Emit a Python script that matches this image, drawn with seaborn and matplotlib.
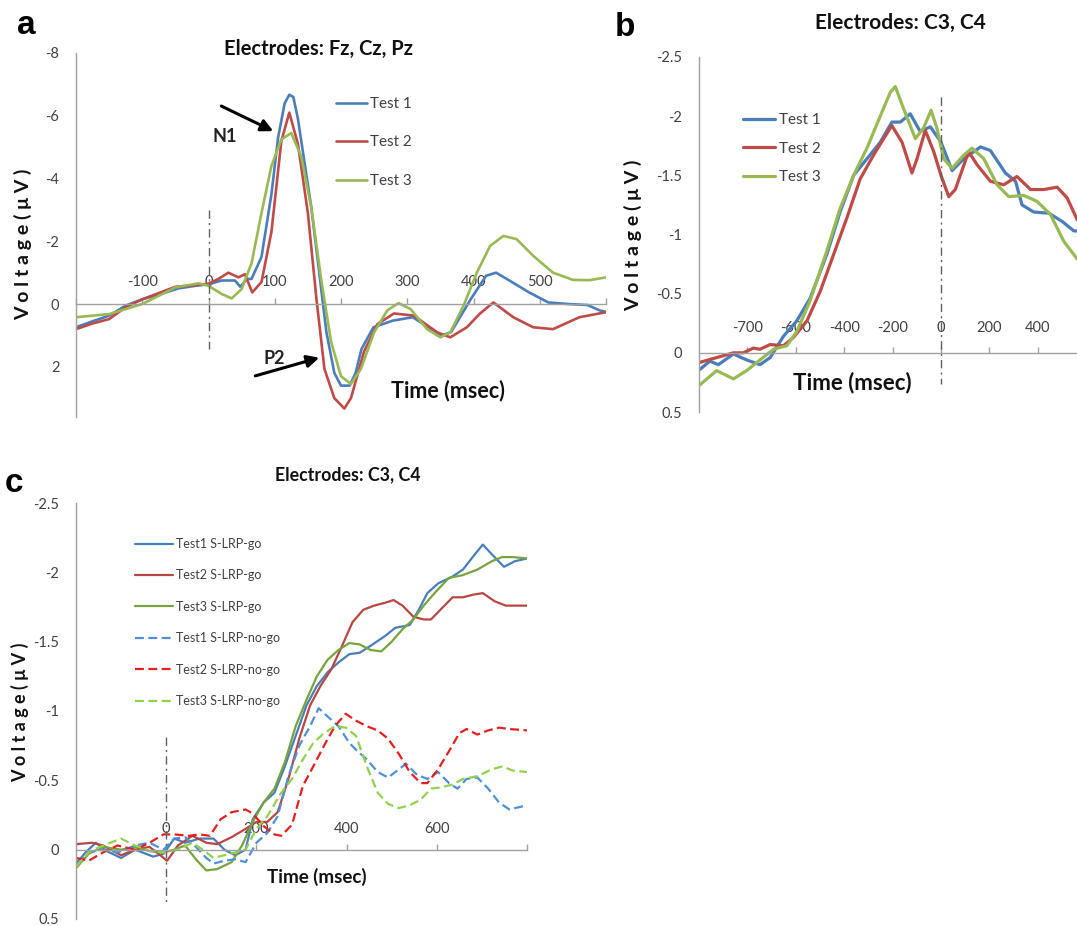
import numpy as np
import pandas as pd
import matplotlib
matplotlib.use("Agg")
import matplotlib.pyplot as plt
import seaborn as sns

# ---------------- data: panel a (Fz, Cz, Pz) ----------------
a_t1_time = [-200, -175, -150, -125, -100, -75, -45, -20, 0, 20, 40, 48, 58, 65, 80, 95, 105, 115, 122,
             128, 135, 145, 155, 166, 178, 190, 200, 213, 222, 231, 249, 278, 308, 337, 352, 366, 396,
             419, 434, 455, 484, 513, 543, 572, 590, 600]
a_t1_volt = [0.74, 0.55, 0.37, 0.05, -0.15, -0.3, -0.5, -0.58, -0.63, -0.75, -0.75, -0.55, -0.8, -0.8,
             -1.5, -3.5, -5.3, -6.4, -6.67, -6.6, -5.9, -4.5, -3.1, -1.2, 0.9, 2.2, 2.6, 2.6, 2.2, 1.43,
             0.74, 0.53, 0.42, 0.8, 1.0, 0.9, -0.16, -0.9, -1.0, -0.74, -0.37, -0.05, 0.0, 0.03, 0.2, 0.25]
a_t2_time = [-200, -175, -150, -125, -100, -75, -50, -20, 0, 15, 30, 45, 55, 66, 80, 95, 110, 122, 135,
             150, 163, 175, 190, 205, 215, 235, 255, 280, 310, 345, 365, 390, 410, 430, 460, 490, 520,
             560, 600]
a_t2_volt = [0.8, 0.62, 0.48, 0.1, -0.15, -0.35, -0.55, -0.6, -0.65, -0.8, -1.0, -0.85, -0.95, -0.37,
             -0.7, -2.3, -5.2, -6.1, -5.1, -2.9, -0.15, 2.07, 3.0, 3.33, 3.0, 1.5, 0.64, 0.3, 0.37, 0.9,
             1.06, 0.74, 0.3, -0.05, 0.42, 0.74, 0.8, 0.42, 0.26]
a_t3_time = [-200, -150, -100, -50, -15, 0, 20, 35, 50, 65, 80, 95, 110, 125, 140, 155, 170, 185, 200,
             215, 230, 250, 270, 287, 305, 330, 350, 365, 385, 405, 425, 445, 465, 490, 520, 550, 575, 600]
a_t3_volt = [0.42, 0.32, 0.0, -0.53, -0.66, -0.58, -0.32, -0.18, -0.48, -1.3, -2.9, -4.4, -5.25, -5.45,
             -4.7, -3.1, -0.8, 1.2, 2.3, 2.55, 2.07, 0.9, 0.2, -0.03, 0.16, 0.8, 1.06, 0.9, 0.05, -1.0,
             -1.85, -2.17, -2.07, -1.54, -1.0, -0.77, -0.76, -0.85]
a_labels = ["Test 1", "Test 2", "Test 3"]
a_xticks = [-200, -100, 0, 100, 200, 300, 400, 500, 600]
a_xticklabels = ["", "-100", "0", "100", "200", "300", "400", "500", ""]
a_yticks = [-8, -6, -4, -2, 0, 2]
a_yticklabels = ["-8", "-6", "-4", "-2", "0", "2"]

# ---------------- data: panel b (C3, C4, response locked) ----------------
b_time = [-996, -955, -920, -858, -803, -748, -706, -651, -596, -541, -472, -417, -361, -306, -251,
          -203, -168, -127, -86, -44, 0, 46, 94, 163, 204, 266, 308, 335, 383, 446, 501, 549, 564]
b_t1_volt = [0.14, 0.07, 0.1, 0.01, 0.06, 0.1, 0.04, -0.14, -0.27, -0.46, -0.83, -1.19, -1.5, -1.64,
             -1.78, -1.95, -1.95, -2.02, -1.87, -1.91, -1.78, -1.54, -1.64, -1.74, -1.71, -1.52, -1.45,
             -1.25, -1.19, -1.18, -1.11, -1.03, -1.03]
b_t2_time = [-996, -927, -858, -817, -775, -748, -706, -651, -610, -554, -499, -444, -389, -334, -279,
             -237, -203, -161, -120, -99, -65, -30, 0, 32, 59, 114, 149, 204, 259, 314, 370, 425, 480,
             521, 564]
b_t2_volt = [0.08, 0.04, 0.0, 0.0, -0.04, -0.03, -0.07, -0.06, -0.13, -0.27, -0.52, -0.83, -1.14, -1.47,
             -1.67, -1.81, -1.92, -1.78, -1.52, -1.64, -1.88, -1.7, -1.5, -1.32, -1.38, -1.7, -1.59,
             -1.45, -1.42, -1.49, -1.38, -1.38, -1.4, -1.31, -1.12]
b_t3_time = [-996, -927, -858, -803, -748, -692, -637, -596, -541, -472, -417, -361, -306, -251, -210,
             -189, -154, -106, -72, -41, -17, 11, 46, 94, 128, 177, 232, 280, 342, 397, 452, 508, 564]
b_t3_volt = [0.27, 0.15, 0.22, 0.15, 0.06, -0.03, -0.06, -0.18, -0.44, -0.86, -1.22, -1.5, -1.73, -2.0,
             -2.2, -2.25, -2.06, -1.81, -1.9, -2.05, -1.9, -1.64, -1.56, -1.67, -1.73, -1.64, -1.42,
             -1.32, -1.33, -1.28, -1.17, -0.94, -0.79]
b_labels = ["Test 1", "Test 2", "Test 3"]
b_xticks = [-800, -600, -400, -200, 0, 200, 400]
b_xticklabels = ["-700", "-600", "-400", "-200", "0", "200", "400"]
b_yticks = [-2.5, -2, -1.5, -1, -0.5, 0, 0.5]
b_yticklabels = ["-2.5", "-2", "-1.5", "-1", "-0.5", "0", "0.5"]

# ---------------- data: panel c (C3, C4, stimulus locked LRP) ----------------
c_go1_time = [-199, -179, -156, -132, -100, -69, -29, -6, 18, 42, 74, 105, 129, 153, 176, 192, 216, 240,
              263, 287, 311, 334, 358, 382, 406, 429, 453, 485, 508, 540, 560, 579, 603, 635, 658, 682,
              702, 722, 749, 773, 800]
c_go1_volt = [0.10, 0.02, -0.05, 0.01, 0.06, 0.0, 0.05, 0.03, -0.08, -0.05, -0.08, -0.08, 0.0, 0.04, 0.0,
              -0.22, -0.34, -0.41, -0.6, -0.82, -1.04, -1.18, -1.28, -1.35, -1.41, -1.42, -1.47, -1.54,
              -1.6, -1.62, -1.73, -1.85, -1.92, -1.97, -2.02, -2.12, -2.2, -2.13, -2.04, -2.08, -2.1]
c_go2_time = [-199, -164, -140, -100, -69, -37, -13, 2, 26, 58, 89, 113, 145, 176, 200, 224, 247, 271,
              295, 319, 342, 366, 390, 413, 437, 461, 485, 504, 524, 548, 571, 587, 611, 635, 658, 682,
              702, 729, 753, 800]
c_go2_volt = [-0.04, -0.05, -0.03, 0.04, 0.0, -0.02, 0.04, 0.08, -0.03, -0.1, -0.05, -0.04, -0.09, -0.15,
              -0.2, -0.2, -0.27, -0.51, -0.8, -1.04, -1.18, -1.3, -1.47, -1.64, -1.73, -1.76, -1.78,
              -1.8, -1.76, -1.68, -1.66, -1.66, -1.74, -1.82, -1.82, -1.84, -1.85, -1.79, -1.76, -1.76]
c_go3_time = [-199, -172, -140, -100, -69, -37, -6, 18, 42, 66, 89, 113, 145, 168, 192, 216, 240, 263,
              287, 311, 334, 358, 382, 406, 429, 453, 477, 500, 524, 548, 571, 595, 627, 658, 690, 722,
              745, 769, 800]
c_go3_volt = [0.13, 0.03, -0.02, 0.0, -0.02, 0.01, 0.02, 0.0, -0.03, 0.07, 0.15, 0.14, 0.09, -0.03,
              -0.2, -0.34, -0.44, -0.63, -0.89, -1.08, -1.25, -1.37, -1.44, -1.49, -1.48, -1.44, -1.43,
              -1.5, -1.59, -1.66, -1.76, -1.85, -1.96, -1.98, -2.02, -2.08, -2.11, -2.11, -2.1]
c_ng1_time = [-199, -172, -140, -108, -69, -37, -6, 18, 42, 66, 89, 105, 129, 153, 176, 200, 224, 247,
              271, 295, 319, 338, 358, 382, 406, 421, 445, 469, 492, 516, 532, 556, 579, 603, 627, 646,
              666, 690, 714, 738, 761, 800]
c_ng1_volt = [0.09, 0.02, 0.0, 0.02, -0.03, -0.05, 0.0, -0.08, -0.09, -0.02, 0.06, 0.1, 0.08, 0.07,
              0.09, -0.05, -0.12, -0.24, -0.53, -0.75, -0.89, -1.02, -0.96, -0.89, -0.77, -0.72, -0.65,
              -0.56, -0.52, -0.58, -0.62, -0.54, -0.51, -0.56, -0.48, -0.44, -0.51, -0.52, -0.44, -0.34,
              -0.29, -0.32]
c_ng2_time = [-199, -172, -140, -108, -69, -37, -6, 18, 50, 74, 97, 121, 145, 176, 192, 216, 240, 255,
              279, 303, 326, 350, 374, 398, 421, 445, 469, 492, 516, 540, 564, 579, 603, 627, 650, 666,
              690, 714, 738, 761, 800]
c_ng2_volt = [0.06, 0.08, 0.02, -0.03, 0.0, -0.05, -0.11, -0.11, -0.1, -0.11, -0.1, -0.22, -0.27, -0.29,
              -0.26, -0.17, -0.11, -0.1, -0.18, -0.46, -0.6, -0.75, -0.89, -0.98, -0.93, -0.89, -0.86,
              -0.8, -0.69, -0.56, -0.48, -0.48, -0.58, -0.71, -0.84, -0.87, -0.83, -0.86, -0.88, -0.87,
              -0.86]
c_ng3_time = [-199, -172, -140, -100, -69, -37, -6, 26, 58, 81, 105, 129, 153, 176, 200, 224, 255, 279,
              303, 326, 350, 374, 398, 421, 445, 469, 492, 516, 540, 564, 587, 611, 635, 658, 690, 722,
              745, 769, 800]
c_ng3_volt = [0.12, 0.02, -0.03, -0.08, -0.03, 0.01, 0.02, 0.0, -0.05, 0.0, 0.06, 0.04, 0.02, 0.0,
              -0.15, -0.24, -0.41, -0.51, -0.65, -0.77, -0.84, -0.89, -0.88, -0.82, -0.6, -0.41, -0.33,
              -0.3, -0.32, -0.36, -0.44, -0.45, -0.47, -0.51, -0.53, -0.58, -0.6, -0.57, -0.56]
c_labels = ["Test1 S-LRP-go", "Test2 S-LRP-go", "Test3 S-LRP-go",
            "Test1 S-LRP-no-go", "Test2 S-LRP-no-go", "Test3 S-LRP-no-go"]
c_xticks = [0, 200, 400, 600, 800]
c_xticklabels = ["0", "200", "400", "600", ""]
c_yticks = [-2.5, -2, -1.5, -1, -0.5, 0, 0.5]
c_yticklabels = ["-2.5", "-2", "-1.5", "-1", "-0.5", "0", "0.5"]

# ---------------- styling ----------------
sns.set_style("white")
plt.rcParams["font.family"] = ["Lato", "DejaVu Sans"]

W, H = 1077, 926
fig = plt.figure(figsize=(W / 100, H / 100), dpi=100)

def rect(x0, x1, yt, yb):
    return [x0 / W, 1 - yb / H, (x1 - x0) / W, (yb - yt) / H]

def fp(x, y):
    return (x / W, 1 - y / H)

AXC = "#A0A0A0"
TXC = "#404040"
BLUE, RED, GREEN = "#4A7EBB", "#BE4B48", "#98B954"

def style(ax, xlim, ylim, xt, xtl, yt, ytl, xpad):
    ax.set_xlim(*xlim)
    ax.set_ylim(*ylim)
    ax.set_xlabel("")
    ax.set_ylabel("")
    ax.patch.set_alpha(0)
    ax.spines["right"].set_visible(False)
    ax.spines["bottom"].set_visible(False)
    ax.spines["top"].set_position(("data", 0))
    ax.spines["top"].set_color(AXC)
    ax.spines["left"].set_color(AXC)
    ax.spines["top"].set_linewidth(1.0)
    ax.spines["left"].set_linewidth(1.0)
    ax.xaxis.set_ticks_position("top")
    ax.set_xticks(xt)
    ax.set_xticklabels(xtl)
    ax.set_yticks(yt)
    ax.set_yticklabels(ytl)
    ax.tick_params(axis="x", direction="out", length=4, width=1, color=AXC, labelcolor=TXC,
                   labelsize=10.5, pad=xpad, top=True, bottom=False, labeltop=True, labelbottom=False)
    ax.tick_params(axis="y", direction="out", length=4, width=1, color=AXC, labelcolor=TXC,
                   labelsize=10.5, pad=8)

def vline(ax, y0, y1):
    ax.vlines(0, y0, y1, colors="#606060", linewidth=1.0, linestyles=(0, (6, 3, 1.5, 3)))

# ---------------- panel a ----------------
axa = fig.add_axes(rect(76, 606, 53, 417))
for t, v, c, lab in [(a_t1_time, a_t1_volt, BLUE, a_labels[0]),
                     (a_t2_time, a_t2_volt, RED, a_labels[1]),
                     (a_t3_time, a_t3_volt, GREEN, a_labels[2])]:
    sns.lineplot(x=t, y=v, ax=axa, color=c, linewidth=1.9, label=lab)
style(axa, (-200, 600), (3.6, -8), a_xticks, a_xticklabels, a_yticks, a_yticklabels, 6.5)
vline(axa, -3.0, 1.43)
axa.legend(loc="upper left", bbox_to_anchor=fp(336, 97), bbox_transform=fig.transFigure,
           frameon=False, borderpad=0, borderaxespad=0, handlelength=2.0, handletextpad=0.25,
           labelspacing=1.6, fontsize=11, labelcolor=TXC)
axa.annotate("", xy=(97.8, -5.51), xytext=(19.3, -6.31),
             arrowprops=dict(arrowstyle="-|>", color="black", lw=2.2, mutation_scale=18,
                             shrinkA=0, shrinkB=0))
axa.annotate("", xy=(167.2, 1.71), xytext=(70.6, 2.29),
             arrowprops=dict(arrowstyle="-|>", color="black", lw=2.2, mutation_scale=18,
                             shrinkA=0, shrinkB=0))
axa.text(24.6, -5.35, "N1", fontsize=13, fontweight="bold", color="#222222", ha="center", va="center")
axa.text(99, 1.72, "P2", fontsize=13, fontweight="bold", color="#222222", ha="center", va="center")

# ---------------- panel b ----------------
axb = fig.add_axes(rect(699, 1077, 57, 412))
for t, v, c, lab in [(b_time, b_t1_volt, BLUE, b_labels[0]),
                     (b_t2_time, b_t2_volt, RED, b_labels[1]),
                     (b_t3_time, b_t3_volt, GREEN, b_labels[2])]:
    sns.lineplot(x=t, y=v, ax=axb, color=c, linewidth=2.3, label=lab)
style(axb, (-1000, 562), (0.5, -2.5), b_xticks, b_xticklabels, b_yticks, b_yticklabels, 9)
vline(axb, -2.16, 0.26)
axb.legend(loc="upper left", bbox_to_anchor=fp(743, 113), bbox_transform=fig.transFigure,
           frameon=False, borderpad=0, borderaxespad=0, handlelength=2.1, handletextpad=0.25,
           labelspacing=0.95, fontsize=11, labelcolor=TXC)

# ---------------- panel c ----------------
axc = fig.add_axes(rect(76, 527, 503, 919))
c_series = [(c_go1_time, c_go1_volt, "#4A7EBB", "-"),
            (c_go2_time, c_go2_volt, "#B84643", "-"),
            (c_go3_time, c_go3_volt, "#77A33F", "-"),
            (c_ng1_time, c_ng1_volt, "#4F8FD8", (0, (4, 2))),
            (c_ng2_time, c_ng2_volt, "#E2201F", (0, (4, 2))),
            (c_ng3_time, c_ng3_volt, "#92D050", (0, (4, 2)))]
for (t, v, c, ls), lab in zip(c_series, c_labels):
    sns.lineplot(x=t, y=v, ax=axc, color=c, linewidth=1.6, linestyle=ls, label=lab)
style(axc, (-200, 800), (0.5, -2.5), c_xticks, c_xticklabels, c_yticks, c_yticklabels, 6)
vline(axc, -0.81, 0.40)
axc.legend(loc="upper left", bbox_to_anchor=fp(135, 538), bbox_transform=fig.transFigure,
           frameon=False, borderpad=0, borderaxespad=0, handlelength=3.0, handletextpad=0.3,
           labelspacing=1.55, fontsize=9, labelcolor=TXC)

# ---------------- texts ----------------
for (x, y), s in [((26, 25), "a"), ((625, 28), "b"), ((14, 483), "c")]:
    fig.text(*fp(x, y), s, fontsize=24, fontweight="bold", family="Liberation Sans",
             ha="center", va="center", color="black")
for (x, y), s, fs in [((318, 49), "Electrodes: Fz, Cz, Pz", 14.5), ((900, 23), "Electrodes: C3, C4", 15),
                      ((348, 475), "Electrodes: C3, C4", 12.8)]:
    fig.text(*fp(x, y), s, fontsize=fs, fontweight="bold", ha="center", va="center", color="#111111")
for (x, y), fs in [((448, 391), 15.5), ((852, 383), 16), ((317, 877), 13.5)]:
    fig.text(*fp(x, y), "Time (msec)", fontsize=fs, fontweight="bold", ha="center", va="center",
             color="#111111")
for (x, y), fs in [((23, 244), 14), ((633, 235), 14), ((20, 712), 13)]:
    fig.text(*fp(x, y), "V o l t a g e ( μ V )", fontsize=fs, fontweight="bold", rotation=90,
             ha="center", va="center", color="#111111")

fig.savefig("out.png", dpi=100)
